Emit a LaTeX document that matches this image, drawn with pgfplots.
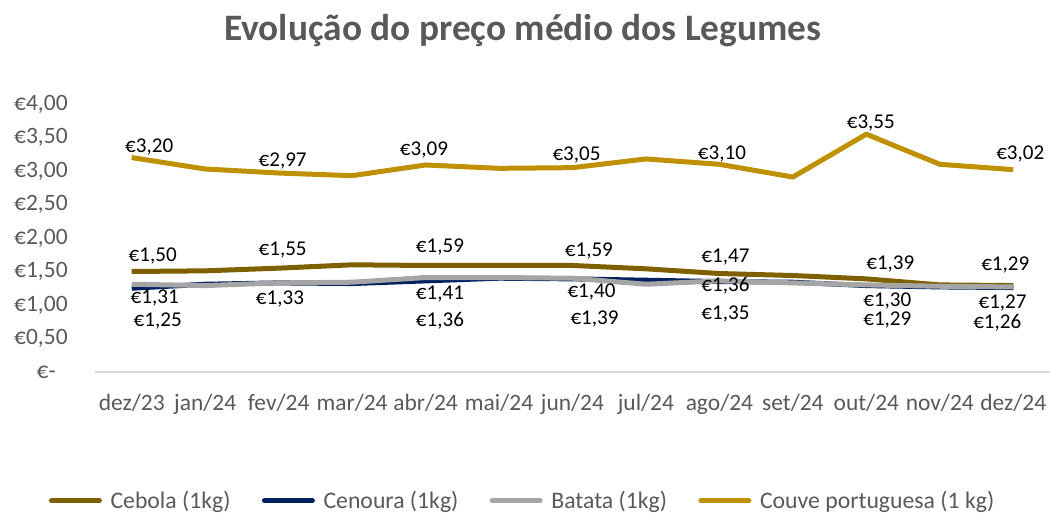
\documentclass[border=0pt]{standalone}
\usepackage{fontspec}
\setmainfont{Carlito}
\usepackage{pgfplots}
\usepackage{pgfplotstable}
\pgfplotsset{compat=1.18}
\definecolor{cebola}{HTML}{7F6000}
\definecolor{cenoura}{HTML}{002060}
\definecolor{batata}{HTML}{A5A5A5}
\definecolor{couve}{HTML}{BF9000}
\definecolor{txtgray}{HTML}{595959}
\definecolor{axgray}{HTML}{D9D9D9}

\pgfplotstableread{
x cebola cenoura batata couve
0 1.50 1.25 1.31 3.20
1 1.51 1.31 1.29 3.03
2 1.55 1.33 1.33 2.97
3 1.60 1.32 1.34 2.93
4 1.59 1.36 1.41 3.09
5 1.59 1.40 1.41 3.04
6 1.59 1.39 1.40 3.05
7 1.54 1.37 1.31 3.18
8 1.47 1.35 1.36 3.10
9 1.44 1.34 1.33 2.91
10 1.39 1.29 1.30 3.55
11 1.30 1.27 1.28 3.10
12 1.29 1.26 1.27 3.02
}\data

\pgfplotsset{
  lab/.style={draw=none, mark=none, forget plot,
    nodes near coords, point meta=explicit symbolic,
    every node near coord/.style={anchor=center, inner sep=0pt,
      font=\fontsize{15.8}{18}\selectfont, text=black,
      xshift={0.75pt*\labdx}, yshift={-0.75pt*\labdy}}
  }
}

\begin{document}
\begin{tikzpicture}
\path[use as bounding box] (0,0) rectangle (787.5pt,384pt);
\begin{axis}[
  at={(71.25pt,105pt)}, anchor=south west,
  scale only axis, width=716.25pt, height=201pt,
  xmin=-0.5, xmax=12.5, ymin=0, ymax=4,
  axis x line*=bottom, axis y line*=left,
  x axis line style={draw=axgray, line width=1.2pt, -},
  y axis line style={draw=none},
  major tick length=0pt,
  xtick={0,...,12},
  xticklabels={dez/23,jan/24,fev/24,mar/24,abr/24,mai/24,jun/24,jul/24,ago/24,set/24,out/24,nov/24,dez/24},
  ytick={0,0.5,1,1.5,2,2.5,3,3.5,4},
  yticklabels={{€-\hphantom{0}},{€0,50},{€1,00},{€1,50},{€2,00},{€2,50},{€3,00},{€3,50},{€4,00}},
  tick label style={font=\fontsize{17.6}{20}\selectfont, text=txtgray},
  xticklabel style={yshift=-13pt},
  yticklabel style={xshift=-17pt},
  title={Evolução do preço médio dos Legumes},
  title style={at={(0.448,1.245)}, anchor=center, font=\fontsize{28}{32}\selectfont\bfseries, text=txtgray},
  legend style={at={(0.447,-0.48)}, anchor=center, draw=none, fill=none,
    legend columns=4, font=\fontsize{17.8}{20}\selectfont, text=txtgray,
    /tikz/every even column/.append style={column sep=19pt},
    nodes={inner sep=2.5pt}},
  legend image code/.code={\draw[#1, line cap=round] (0pt,0pt) -- (36pt,0pt); \path (-2pt,0pt) (40pt,0pt);},
  every axis plot/.append style={line width=3.75pt, line join=round},
]
\addplot[cebola, mark=none] table[x=x, y=cebola] {\data};
\addlegendentry{Cebola (1kg)}
\addplot[cenoura, mark=none] table[x=x, y=cenoura] {\data};
\addlegendentry{Cenoura (1kg)}
\addplot[batata, mark=none] table[x=x, y=batata] {\data};
\addlegendentry{Batata (1kg)}
\addplot[couve, mark=none] table[x=x, y=couve] {\data};
\addlegendentry{Couve portuguesa (1 kg)}

\addplot[lab,
  visualization depends on={\thisrow{dx} \as \labdx},
  visualization depends on={\thisrow{dy} \as \labdy}]
  table[x=x, y=y, meta=lab] {
x y dx dy lab
0 3.20 17.5 -11 €3,20
2 2.97 4 -12.3 €2,97
4 3.09 -1.6 -15.3 €3,09
6 3.05 4 -12.6 €3,05
8 3.10 2.5 -10.3 €3,10
10 3.55 4.5 -11 €3,55
12 3.02 7 -15.7 €3,02
};
\addplot[lab,
  visualization depends on={\thisrow{dx} \as \labdx},
  visualization depends on={\thisrow{dy} \as \labdy}]
  table[x=x, y=y, meta=lab] {
x y dx dy lab
0 1.50 21 -15.8 €1,50
2 1.55 4 -18 €1,55
4 1.59 14.4 -18.2 €1,59
6 1.59 16.4 -14.8 €1,59
8 1.47 6 -16.2 €1,47
10 1.39 24 -15 €1,39
12 1.29 -8 -21 €1,29
};
\addplot[lab,
  visualization depends on={\thisrow{dx} \as \labdx},
  visualization depends on={\thisrow{dy} \as \labdy}]
  table[x=x, y=y, meta=lab] {
x y dx dy lab
0 1.31 23 14 €1,31
2 1.33 1.3 16 €1,33
4 1.41 14.4 17 €1,41
6 1.40 19 13.5 €1,40
8 1.36 6 5 €1,36
10 1.30 21 16 €1,30
12 1.27 -10.7 16.4 €1,27
};
\addplot[lab,
  visualization depends on={\thisrow{dx} \as \labdx},
  visualization depends on={\thisrow{dy} \as \labdy}]
  table[x=x, y=y, meta=lab] {
x y dx dy lab
0 1.25 26 32.5 €1,25
4 1.36 14.4 40 €1,36
6 1.39 22 40 €1,39
8 1.35 6 32 €1,35
10 1.29 21 34.4 €1,29
12 1.26 -16 34.7 €1,26
};
\end{axis}
\end{tikzpicture}
\end{document}
